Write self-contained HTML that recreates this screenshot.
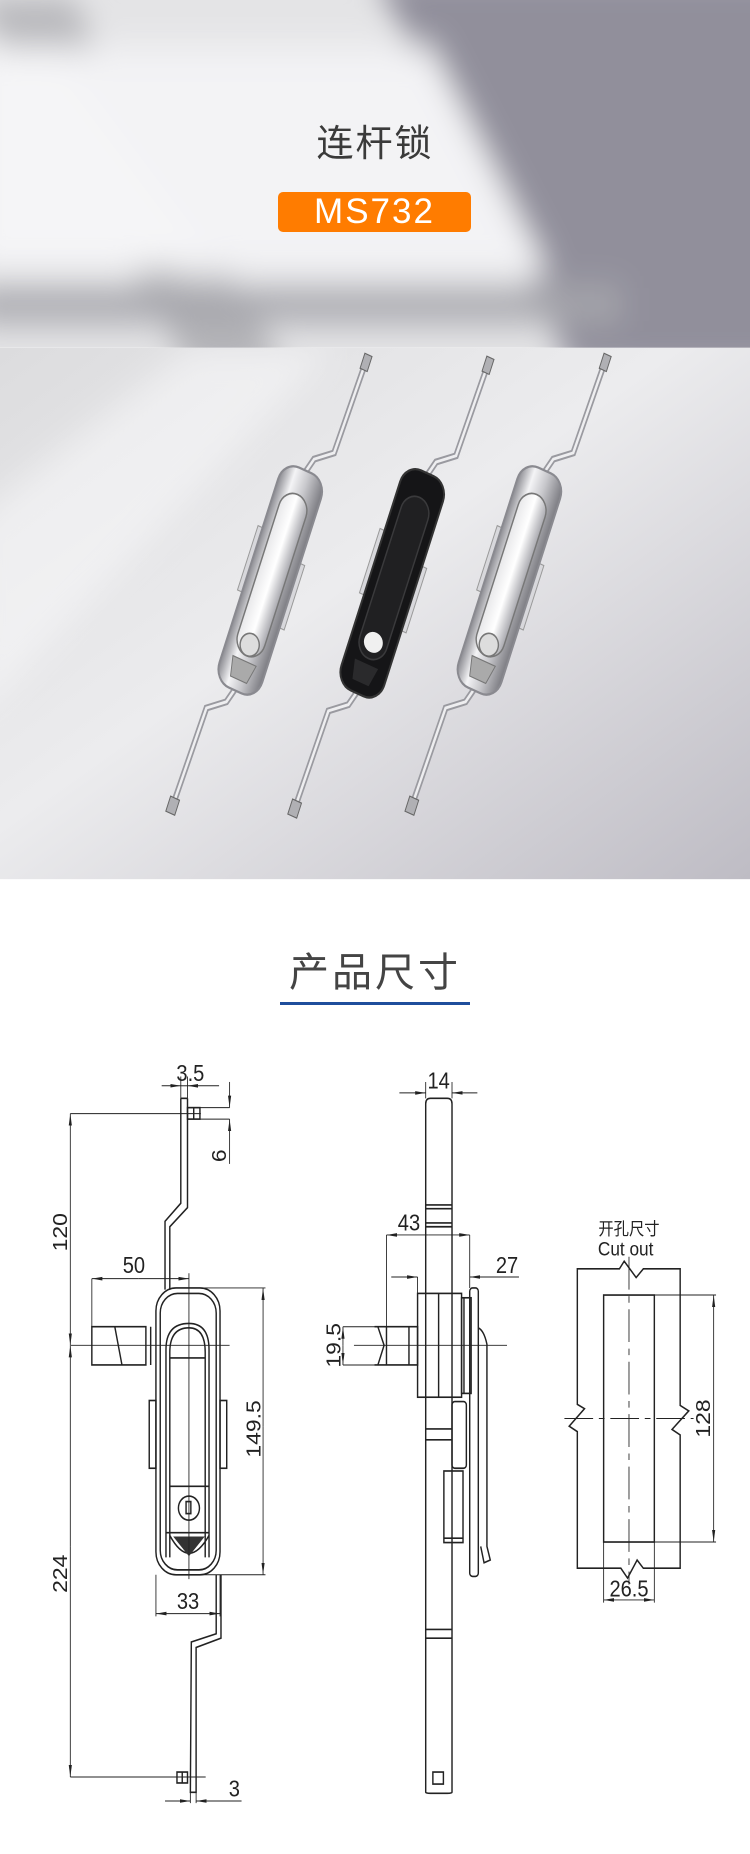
<!DOCTYPE html>
<html><head><meta charset="utf-8"><style>
html,body{margin:0;padding:0;background:#fff;}
body{width:750px;height:1854px;position:relative;overflow:hidden;font-family:"Liberation Sans","Noto Sans CJK SC",sans-serif;}
.abs{position:absolute;}
</style></head><body>
<svg class="abs" style="left:0;top:0" width="750" height="900" viewBox="0 0 1568 1566" preserveAspectRatio="none">
<defs>
<filter id="bl" x="-20%" y="-20%" width="140%" height="140%"><feGaussianBlur stdDeviation="30"/></filter>
<linearGradient id="pb" x1="0" y1="0" x2="1" y2="1"><stop offset="0" stop-color="#dcdcde"/><stop offset="0.45" stop-color="#ececee"/><stop offset="1" stop-color="#bebcc4"/></linearGradient>
<linearGradient id="chr" x1="0" y1="0" x2="1" y2="0"><stop offset="0" stop-color="#8a8a90"/><stop offset="0.3" stop-color="#f4f4f6"/><stop offset="0.6" stop-color="#c8c8cc"/><stop offset="1" stop-color="#7c7c82"/></linearGradient>
<linearGradient id="chr2" x1="0" y1="0" x2="1" y2="0"><stop offset="0" stop-color="#e8e8ea"/><stop offset="0.5" stop-color="#ffffff"/><stop offset="1" stop-color="#a8a8ae"/></linearGradient>
<clipPath id="hc"><rect x="0" y="0" width="1568" height="605"/></clipPath>
<clipPath id="pc"><rect x="0" y="605" width="1568" height="925"/></clipPath>
<g id="lock">
<polyline points="0,-200 10,-230 45,-255 50,-420 50,-430" fill="none" stroke="#9a9aa0" stroke-width="12"/>
<polyline points="0,-200 10,-230 45,-255 50,-420" fill="none" stroke="#eeeef0" stroke-width="5"/>
<rect x="43" y="-440" width="16" height="28" fill="#b0b0b4" stroke="#666" stroke-width="2"/>
<polyline points="0,200 -10,230 -45,255 -50,440" fill="none" stroke="#9a9aa0" stroke-width="12"/>
<polyline points="0,200 -10,230 -45,255 -50,440" fill="none" stroke="#eeeef0" stroke-width="5"/>
<rect x="-60" y="425" width="20" height="28" fill="#b0b0b4" stroke="#666" stroke-width="2"/>
<rect x="-58" y="-80" width="10" height="120" fill="#d8d8dc" stroke="#999" stroke-width="2"/>
<rect x="48" y="-50" width="10" height="120" fill="#d8d8dc" stroke="#999" stroke-width="2"/>
</g>
</defs>
<g clip-path="url(#hc)">
<rect x="0" y="0" width="1568" height="605" fill="#e4e4e6"/>
<g filter="url(#bl)">
<polygon points="780,-50 1650,-50 1650,650 1200,650" fill="#918f9b"/>
<polygon points="-50,0 150,0 600,650 400,650" fill="#b4b4b8"/>
<polygon points="100,80 900,80 1150,480 380,480" fill="#f3f3f5"/>
<polygon points="-50,500 1300,500 1300,560 -50,560" fill="#a6a6ac"/>
<polygon points="-50,80 100,80 450,470 -50,470" fill="#f5f5f7"/>
</g>
</g>
<g clip-path="url(#pc)">
<rect x="0" y="605" width="1568" height="925" fill="url(#pb)"/>
<g filter="url(#bl)"><polygon points="-50,900 400,605 700,605 -50,1250" fill="#f6f6f8" opacity="0.6"/></g>
</g>
<g transform="translate(565,1010) rotate(21)">
<use href="#lock"/>
<rect x="-48" y="-205" width="96" height="410" rx="34" fill="url(#chr)" stroke="#8a8a90" stroke-width="4"/>
<rect x="-30" y="-160" width="60" height="300" rx="30" fill="url(#chr2)" stroke="#777" stroke-width="3"/>
<circle cx="0" cy="120" r="20" fill="#ddd" stroke="#777" stroke-width="3"/>
<path d="M-26,150 L26,150 L18,185 L-18,185Z" fill="#aaa" stroke="#777" stroke-width="2"/>
</g>
<g transform="translate(820,1015) rotate(21)">
<use href="#lock"/>
<rect x="-48" y="-205" width="96" height="410" rx="34" fill="#151517" stroke="#333" stroke-width="4"/>
<rect x="-30" y="-160" width="60" height="300" rx="30" fill="#202022" stroke="#3a3a3c" stroke-width="3"/>
<ellipse cx="0" cy="110" rx="20" ry="18" fill="#f0f0f0"/>
<path d="M-26,150 L26,150 L18,185 L-18,185Z" fill="#2a2a2c"/>
</g>
<g transform="translate(1065,1010) rotate(21)">
<use href="#lock"/>
<rect x="-48" y="-205" width="96" height="410" rx="34" fill="url(#chr)" stroke="#8a8a90" stroke-width="4"/>
<rect x="-30" y="-160" width="60" height="300" rx="30" fill="url(#chr2)" stroke="#777" stroke-width="3"/>
<circle cx="0" cy="120" r="20" fill="#ddd" stroke="#777" stroke-width="3"/>
<path d="M-26,150 L26,150 L18,185 L-18,185Z" fill="#aaa" stroke="#777" stroke-width="2"/>
</g>
</svg>
<div class="abs" style="left:0;width:750px;top:113px;text-align:center;font-size:37px;color:#3a3a3a;letter-spacing:2px;">连杆锁</div>
<div class="abs" style="left:278px;top:192px;width:193px;height:40px;background:#ff7c00;border-radius:5px;color:#fff;font-size:35px;line-height:40px;text-align:center;letter-spacing:2px;">MS732</div>
<div class="abs" style="left:0;width:750px;top:940px;text-align:center;font-size:40px;color:#444;letter-spacing:3px;">产品尺寸</div>
<div class="abs" style="left:280px;top:1002px;width:190px;height:3px;background:#1f4e9c;"></div>

<svg class="abs" style="left:0;top:1000px" width="750" height="854" viewBox="0 0 1568 1563" preserveAspectRatio="none">
<defs>
<marker id="b" viewBox="0 0 10 10" refX="10" refY="5" markerWidth="22" markerHeight="22" orient="auto-start-reverse" markerUnits="userSpaceOnUse"><path d="M0,3.5 L10,5 L0,6.5Z" fill="#222"/></marker>
</defs>
<g fill="none" stroke="#222" stroke-width="3">
<path d="M378,180 L378,372 L345,405 L345,530 M392,180 L392,380 L355,415 L355,530"/>
<path d="M378,180 L392,180"/>
<rect x="392" y="197" width="26" height="21"/><path d="M405,197 V218"/>
<rect x="326" y="527" width="134" height="525" rx="42"/>
<rect x="335" y="537" width="117" height="506" rx="36"/>
<path d="M347,1020 L347,640 Q347,592 395,592 Q437,592 437,640 L437,1020"/>
<path d="M355,1020 L355,645 Q355,600 395,600 Q429,600 429,645 L429,1020"/>
<path d="M355,655 H429 M355,890 H437 M347,975 H437"/>
<circle cx="395" cy="930" r="22"/><rect x="389" y="918" width="10" height="22"/>
<path d="M355,980 Q395,1045 437,980"/>
<rect x="312" y="733" width="14" height="124"/><rect x="460" y="733" width="14" height="124"/>
<path d="M192,598 L305,598 L305,668 L192,668 Z M192,598 L240,598 L255,668 M305,598 V668 M315,598 V668"/>
<path d="M452,1052 L452,1160 L400,1175 L398,1450 L410,1450 L410,1185 L462,1168 L462,1052"/>
<rect x="370" y="1413" width="22" height="20"/><path d="M381,1413 V1433"/>
</g>
<polygon points="362,982 428,982 395,1018" fill="#333"/>
<g fill="none" stroke="#222" stroke-width="1.8">
<path d="M148,632 H480 M395,500 V1060"/>
<path d="M338,157 H378" marker-end="url(#b)"/><path d="M458,157 H392" marker-end="url(#b)"/><path d="M378,157 H392"/>
<path d="M378,140 V180 M392,140 V180"/>
<path d="M418,197 H480 M418,218 H480"/>
<path d="M480,150 V197" marker-end="url(#b)"/><path d="M480,300 V218" marker-end="url(#b)"/>
<path d="M147,208 H420 M147,1422 H430"/>
<path d="M147,420 V208" marker-end="url(#b)"/><path d="M147,420 V632" marker-end="url(#b)"/>
<path d="M147,1000 V632" marker-end="url(#b)"/><path d="M147,1000 V1422" marker-end="url(#b)"/>
<path d="M192,510 V598"/><path d="M290,510 H192" marker-end="url(#b)"/><path d="M290,510 H395" marker-end="url(#b)"/>
<path d="M400,527 H555 M420,1052 H555"/>
<path d="M550,780 V527" marker-end="url(#b)"/><path d="M550,780 V1052" marker-end="url(#b)"/>
<path d="M326,1052 V1128 M460,1052 V1128"/>
<path d="M393,1123 H326" marker-end="url(#b)"/><path d="M393,1123 H460" marker-end="url(#b)"/>
<path d="M398,1450 V1470 M410,1450 V1470"/>
<path d="M345,1466 H398" marker-end="url(#b)"/><path d="M505,1466 H410" marker-end="url(#b)"/>
</g>
<g fill="none" stroke="#222" stroke-width="3">
<path d="M890,1450 L890,190 Q890,180 900,180 L935,180 Q945,180 945,190 L945,1450 Q945,1452 935,1452 L900,1452 Q890,1452 890,1450"/>
<path d="M890,375 H945 M890,382 H945 M890,408 H945 M890,415 H945 M890,785 H945 M890,805 H945 M890,1152 H945 M890,1168 H945"/>
<rect x="905" y="1413" width="22" height="22"/>
<rect x="873" y="537" width="92" height="190"/><path d="M917,537 V727"/>
<rect x="965" y="545" width="20" height="175"/><path d="M970,545 V720"/>
<rect x="982" y="527" width="18" height="528" rx="6"/>
<path d="M1000,600 Q1012,605 1018,630 V1000 L1025,1025 L1012,1030 L1005,1000"/>
<rect x="945" y="735" width="30" height="122" rx="6"/>
<rect x="928" y="862" width="40" height="131"/><path d="M928,985 H968"/>
<path d="M783,598 L873,598 L873,668 L783,668 M790,598 L803,632 L790,668 M808,598 V668 M855,598 V668"/>
</g>
<g fill="none" stroke="#222" stroke-width="1.8">
<path d="M740,632 H1060"/>
<path d="M890,150 V180 M945,150 V180"/>
<path d="M835,170 H890" marker-end="url(#b)"/><path d="M998,170 H945" marker-end="url(#b)"/>
<path d="M808,430 V598 M982,430 V527"/>
<path d="M895,430 H808" marker-end="url(#b)"/><path d="M895,430 H982" marker-end="url(#b)"/>
<path d="M873,507 V537"/>
<path d="M818,507 H873" marker-end="url(#b)"/><path d="M1085,507 H982" marker-end="url(#b)"/>
<path d="M717,598 H790 M717,668 H790"/>
<path d="M717,632 V598" marker-end="url(#b)"/><path d="M717,632 V668" marker-end="url(#b)"/>
</g>
<g fill="none" stroke="#222" stroke-width="3">
<path d="M1207,492 H1295 L1305,478 L1330,508 L1345,492 H1422 V742 L1440,752 L1405,786 L1422,796 V1040 H1345 L1332,1025 L1312,1058 L1298,1040 H1207 V790 L1190,780 L1222,748 L1207,740 Z"/>
<rect x="1262" y="540" width="106" height="452"/>
</g>
<g fill="none" stroke="#222" stroke-width="1.8">
<path d="M1315,470 V1070" stroke-dasharray="60,12,12,12"/>
<path d="M1180,766 H1450" stroke-dasharray="60,12,12,12"/>
<path d="M1368,540 H1497 M1368,992 H1497"/>
<path d="M1492,766 V540" marker-end="url(#b)"/><path d="M1492,766 V992" marker-end="url(#b)"/>
<path d="M1262,992 V1103 M1368,992 V1103"/>
<path d="M1315,1098 H1262" marker-end="url(#b)"/><path d="M1315,1098 H1368" marker-end="url(#b)"/>
</g>
<g font-family="Liberation Sans, sans-serif" font-size="42" fill="#222" text-anchor="middle">
<text x="398" y="148">3.5</text>
<text x="280" y="500">50</text>
<text x="393" y="1115">33</text>
<text x="490" y="1458">3</text>
<text x="917" y="162">14</text>
<text x="855" y="422">43</text>
<text x="1060" y="500">27</text>
<text x="1315" y="1092">26.5</text>
<text transform="translate(472,285) rotate(-90)">6</text>
<text transform="translate(140,425) rotate(-90)">120</text>
<text transform="translate(140,1050) rotate(-90)">224</text>
<text transform="translate(545,785) rotate(-90)">149.5</text>
<text transform="translate(712,632) rotate(-90)">19.5</text>
<text transform="translate(1484,766) rotate(-90)">128</text>
<text x="1315" y="430" font-size="32" font-family="Liberation Sans, Noto Sans CJK SC, sans-serif">开孔尺寸</text>
<text x="1308" y="468" font-size="36">Cut out</text>
</g>
</svg>
</body></html>
